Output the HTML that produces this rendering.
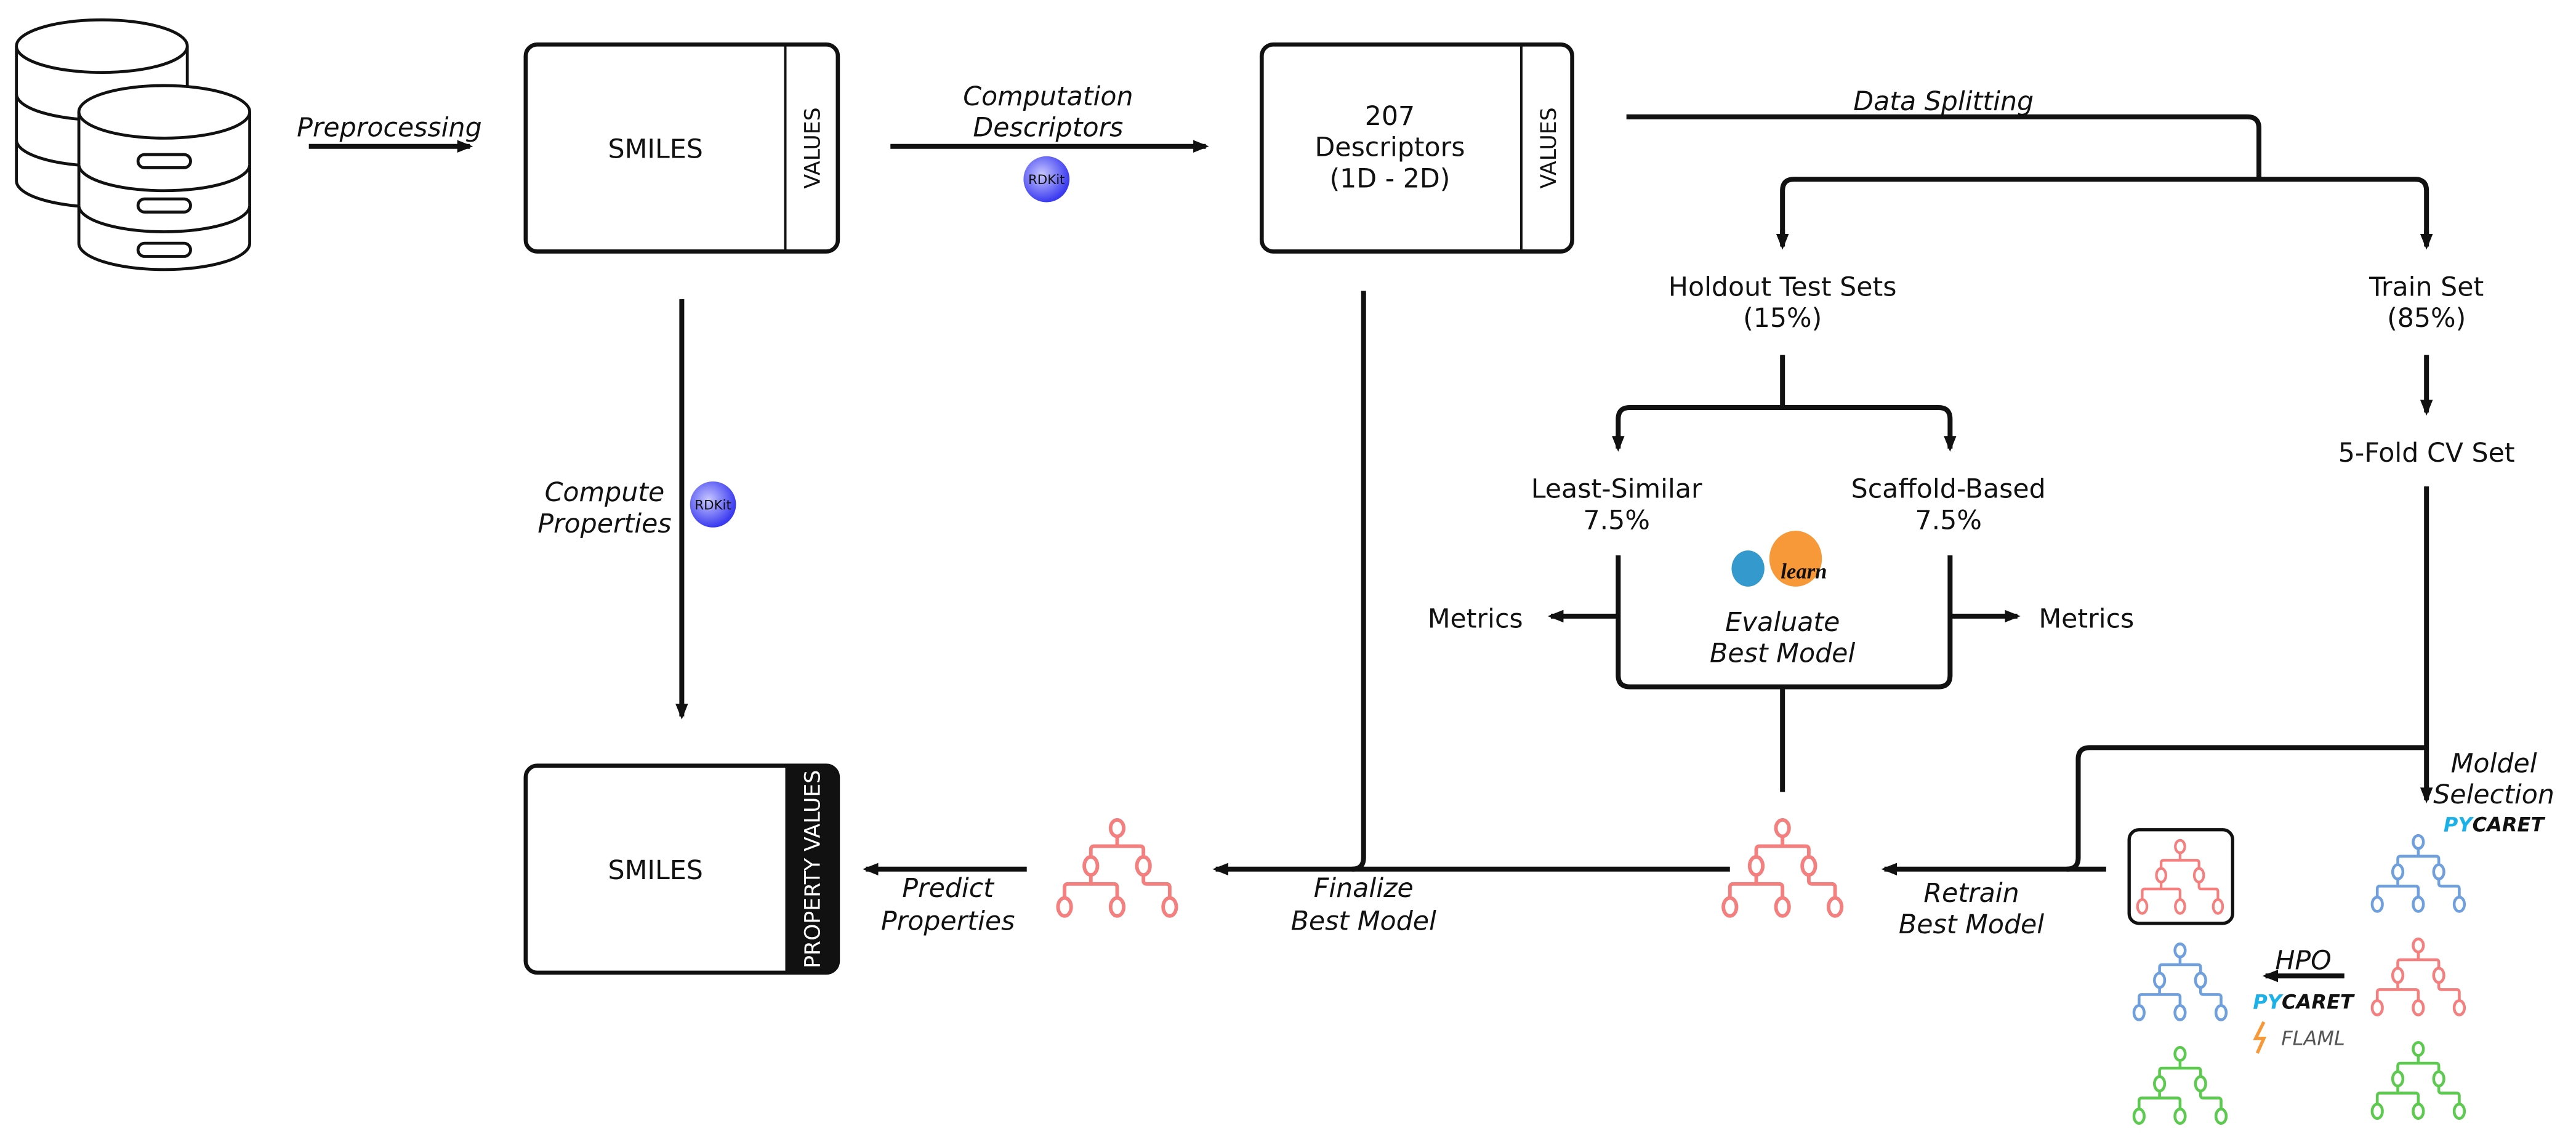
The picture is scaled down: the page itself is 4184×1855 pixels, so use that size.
<!DOCTYPE html>
<html><head><meta charset="utf-8"><style>
html,body{margin:0;padding:0;background:#fff}
svg{display:block}
text{font-family:"DejaVu Sans","Liberation Sans",sans-serif;font-size:16px;fill:#111}
.i{font-style:italic}
</style></head><body>
<svg width="4184" height="1855" viewBox="0 0 1568 695" xmlns="http://www.w3.org/2000/svg">
<defs>
<marker id="a" viewBox="0 0 10 10" refX="8" refY="5" markerWidth="3.2" markerHeight="3.2" orient="auto"><path d="M0,1 L10,5 L0,9 z" fill="#111"/></marker>
<g id="t" fill="none" stroke-width="2.2">
<ellipse cx="0" cy="-26" rx="4" ry="5"/>
<path d="M0,-21 V-15 M-16,-9 V-13 Q-16,-15 -14,-15 H14 Q16,-15 16,-13 V-9"/>
<ellipse cx="-16" cy="-3" rx="4" ry="5.5"/><ellipse cx="16" cy="-3" rx="4" ry="5.5"/>
<path d="M-16,2.5 V8 M-32,16 V10 Q-32,8 -30,8 H-2 Q0,8 0,10 V16 M16,2.5 V6 Q16,8 18,8 H30 Q32,8 32,10 V16"/>
<ellipse cx="-32" cy="22" rx="4" ry="5.5"/><ellipse cx="0" cy="22" rx="4" ry="5.5"/><ellipse cx="32" cy="22" rx="4" ry="5.5"/>
</g>
<radialGradient id="rg" cx="0.4" cy="0.4" r="0.6"><stop offset="0" stop-color="#c8c8ff"/><stop offset="1" stop-color="#3a3af0"/></radialGradient>
</defs>

<g fill="#fff" stroke="#111" stroke-width="1.8">
<path d="M10,28 V110 A52,16 0 0 0 114,110 V28"/>
<path d="M10,57 A52,16 0 0 0 60,73 M10,85 A52,16 0 0 0 60,101"/>
<ellipse cx="62" cy="28" rx="52" ry="16"/>
<path d="M48,68 V148 A52,16 0 0 0 152,148 V68"/>
<ellipse cx="100" cy="68" rx="52" ry="16"/>
<path d="M48,100 A52,16 0 0 0 152,100 M48,125 A52,16 0 0 0 152,125"/>
<rect x="84" y="94" width="32" height="8" rx="4"/>
<rect x="84" y="121" width="32" height="8" rx="4"/>
<rect x="84" y="148" width="32" height="8" rx="4"/>
</g>

<g fill="none" stroke="#111" stroke-width="3">
<path d="M188,89 H286" marker-end="url(#a)"/>
<path d="M542,89 H734" marker-end="url(#a)"/>
<path d="M990,71 H1368 Q1375,71 1375,78 V109"/>
<path d="M1085,148 V116 Q1085,109 1092,109 H1470 Q1477,109 1477,116 V148" />
<path d="M1085,140 V150" marker-end="url(#a)"/>
<path d="M1477,140 V150" marker-end="url(#a)"/>
<path d="M1085,216 V248"/>
<path d="M985,272 V255 Q985,248 992,248 H1180 Q1187,248 1187,255 V272"/>
<path d="M985,265 V273" marker-end="url(#a)"/>
<path d="M1187,265 V273" marker-end="url(#a)"/>
<path d="M1477,216 V251" marker-end="url(#a)"/>
<path d="M985,338 V411 Q985,418 992,418 H1180 Q1187,418 1187,411 V338"/>
<path d="M985,375 H944" marker-end="url(#a)"/>
<path d="M1187,375 H1228" marker-end="url(#a)"/>
<path d="M1085,418 V482"/>
<path d="M1053,529 H740" marker-end="url(#a)"/>
<path d="M830,177 V522 Q830,529 823,529"/>
<path d="M625,529 H527" marker-end="url(#a)"/>
<path d="M415,182 V436" marker-end="url(#a)"/>
<path d="M1477,296 V487" marker-end="url(#a)"/>
<path d="M1477,455 H1272 Q1265,455 1265,462 V522 Q1265,529 1258,529"/>
<path d="M1282,529 H1147" marker-end="url(#a)"/>
<path d="M1427,594 H1379" marker-end="url(#a)"/>
</g>

<rect x="320" y="27" width="190" height="126" rx="7" fill="#fff" stroke="#111" stroke-width="2.5"/>
<line x1="478" y1="27" x2="478" y2="153" stroke="#111" stroke-width="1.5"/>
<text x="399" y="96" text-anchor="middle">SMILES</text>
<text transform="translate(499,90) rotate(-90)" text-anchor="middle" style="font-size:13px">VALUES</text>

<rect x="768" y="27" width="189" height="126" rx="7" fill="#fff" stroke="#111" stroke-width="2.5"/>
<line x1="926" y1="27" x2="926" y2="153" stroke="#111" stroke-width="1.5"/>
<text x="846" y="76" text-anchor="middle">207</text>
<text x="846" y="95" text-anchor="middle">Descriptors</text>
<text x="846" y="114" text-anchor="middle">(1D - 2D)</text>
<text transform="translate(947,90) rotate(-90)" text-anchor="middle" style="font-size:13px">VALUES</text>

<path d="M478,466 H503 Q510,466 510,473 V585 Q510,592 503,592 H478 Z" fill="#111"/>
<rect x="320" y="466" width="190" height="126" rx="7" fill="none" stroke="#111" stroke-width="2.5"/>
<text x="399" y="535" text-anchor="middle">SMILES</text>
<text transform="translate(499,529) rotate(-90)" text-anchor="middle" style="font-size:13px;fill:#fff">PROPERTY VALUES</text>

<text x="237" y="83" text-anchor="middle" class="i">Preprocessing</text>
<text x="638" y="64" text-anchor="middle" class="i">Computation</text>
<text x="638" y="83" text-anchor="middle" class="i">Descriptors</text>
<text x="1183" y="67" text-anchor="middle" class="i">Data Splitting</text>
<text x="1085" y="180" text-anchor="middle">Holdout Test Sets</text>
<text x="1085" y="199" text-anchor="middle">(15%)</text>
<text x="1477" y="180" text-anchor="middle">Train Set</text>
<text x="1477" y="199" text-anchor="middle">(85%)</text>
<text x="1477" y="281" text-anchor="middle">5-Fold CV Set</text>
<text x="984" y="303" text-anchor="middle">Least-Similar</text>
<text x="984" y="322" text-anchor="middle">7.5%</text>
<text x="1186" y="303" text-anchor="middle">Scaffold-Based</text>
<text x="1186" y="322" text-anchor="middle">7.5%</text>
<text x="898" y="382" text-anchor="middle">Metrics</text>
<text x="1270" y="382" text-anchor="middle">Metrics</text>
<text x="1085" y="384" text-anchor="middle" class="i">Evaluate</text>
<text x="1085" y="403" text-anchor="middle" class="i">Best Model</text>
<text x="368" y="305" text-anchor="middle" class="i">Compute</text>
<text x="368" y="324" text-anchor="middle" class="i">Properties</text>
<text x="577" y="546" text-anchor="middle" class="i">Predict</text>
<text x="577" y="566" text-anchor="middle" class="i">Properties</text>
<text x="830" y="546" text-anchor="middle" class="i">Finalize</text>
<text x="830" y="566" text-anchor="middle" class="i">Best Model</text>
<text x="1200" y="549" text-anchor="middle" class="i">Retrain</text>
<text x="1200" y="568" text-anchor="middle" class="i">Best Model</text>
<text x="1518" y="470" text-anchor="middle" class="i">Moldel</text>
<text x="1518" y="489" text-anchor="middle" class="i">Selection</text>
<text x="1402" y="590" text-anchor="middle" class="i">HPO</text>

<circle cx="637" cy="109" r="14" fill="url(#rg)"/>
<text x="637" y="112" text-anchor="middle" style="font-size:8px">RDKit</text>
<circle cx="434" cy="307" r="14" fill="url(#rg)"/>
<text x="434" y="310" text-anchor="middle" style="font-size:8px">RDKit</text>

<ellipse cx="1064" cy="346" rx="10" ry="11" fill="#3499cd"/>
<ellipse cx="1093" cy="340" rx="16" ry="17" fill="#f89939"/>
<text x="1098" y="352" text-anchor="middle" class="i" style="font-size:13px;font-family:'Liberation Serif',serif;font-weight:bold">learn</text>

<text x="1518" y="506" text-anchor="middle" style="font-size:12px;font-weight:bold;font-style:italic"><tspan fill="#1ab0e8">PY</tspan>CARET</text>
<text x="1402" y="614" text-anchor="middle" style="font-size:12px;font-weight:bold;font-style:italic"><tspan fill="#1ab0e8">PY</tspan>CARET</text>
<path d="M1378,622 L1373,632 L1378,632 L1374,641" stroke="#f89939" stroke-width="2" fill="none"/>
<text x="1408" y="636" text-anchor="middle" style="font-size:12px;font-style:italic;fill:#555">FLAML</text>

<use href="#t" x="1085" y="530" stroke="#f47f7f"/>
<use href="#t" x="680" y="530" stroke="#f47f7f"/>
<rect x="1296" y="505" width="63" height="57" rx="6" fill="none" stroke="#111" stroke-width="2"/>
<g transform="translate(1327,535) scale(0.72,0.76)"><use href="#t" stroke="#f47f7f"/></g>
<g transform="translate(1472,533) scale(0.78,0.79)"><use href="#t" stroke="#6fa0dd"/></g>
<g transform="translate(1472,596) scale(0.78,0.79)"><use href="#t" stroke="#f47f7f"/></g>
<g transform="translate(1472,659) scale(0.78,0.79)"><use href="#t" stroke="#5cc94f"/></g>
<g transform="translate(1327,599) scale(0.78,0.79)"><use href="#t" stroke="#6fa0dd"/></g>
<g transform="translate(1327,662) scale(0.78,0.79)"><use href="#t" stroke="#5cc94f"/></g>
</svg>
</body></html>
